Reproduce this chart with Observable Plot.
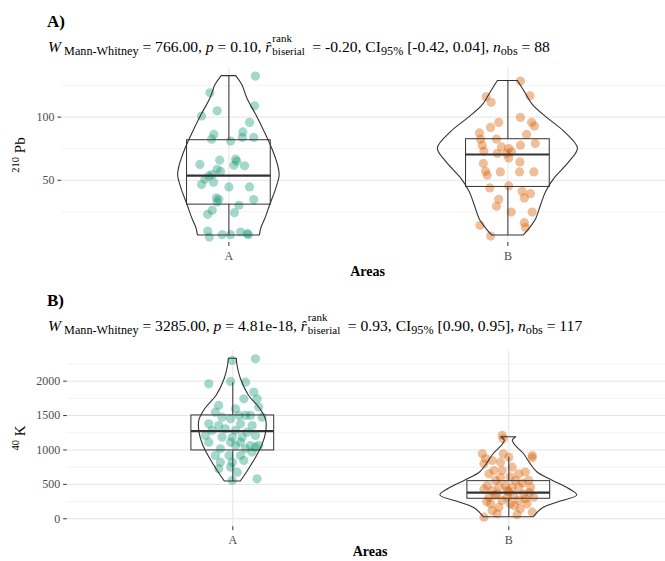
<!DOCTYPE html>
<html><head><meta charset="utf-8">
<script src="https://cdn.jsdelivr.net/npm/d3@7"></script>
<script src="https://cdn.jsdelivr.net/npm/@observablehq/plot@0.6"></script>
<style>
body{margin:0;background:#fff;}
#root{position:relative;width:665px;height:561px;font-family:"Liberation Serif","Times New Roman",serif;color:#000;overflow:hidden;}
.abs{position:absolute;white-space:nowrap;line-height:1;}
.title{font-weight:bold;font-size:17px;}
.sub{font-size:15.6px;}
.sb{font-size:12.2px;position:relative;top:3.5px;}
.stk{position:relative;display:inline-block;height:1px;}
.stk span{position:absolute;left:1px;font-size:11px;line-height:0.9;}
.xt{font-weight:bold;font-size:14px;transform:translateX(-50%);}
.yt{transform:translate(-50%,-50%) rotate(-90deg);font-size:15px;}
.yt .sp{font-size:10.5px;position:relative;top:-6px;}
svg{position:absolute;left:0;}
</style></head>
<body><div id="root"></div>
<script>
// ---------- data ----------
const categories = ["A", "B"];
const colors = ["#1B9E77", "#D95F02"];

// Panel A: 210Pb
const pbA_values = [132.5,119.3,105,100.8,109,95.8,88.3,86.3,82.5,81,83.9,83.9,66.7,65,61.9,65.9,61.4,62.5,58.7,54.5,50.8,46.6,53.4,44.7,44.7,34.9,32.8,34.7,30.2,26.2,23,24.3,9.8,5,6.9,6.9,9,7.7,6.9,57,48.5,36];
const pbA_jitter = [0.095,-0.068,-0.042,-0.098,0.092,0.074,0.05,-0.054,-0.062,0.006,0.048,0.089,0.024,0.028,0.018,-0.033,0.056,-0.104,-0.042,-0.06,-0.086,-0.098,-0.072,0,0.074,-0.036,-0.042,0.089,0.036,-0.06,-0.076,0.02,-0.076,-0.07,-0.024,0.006,0.042,0.066,0.07,-0.03,-0.055,-0.045];
const pbB_values = [128.6,116.1,111.7,116.9,99.8,95.8,92.9,95.8,91.8,87.5,86.3,82.5,82.5,79.1,77.8,77.8,76.4,75.1,73,71.2,71.2,72.5,67.7,63.3,64.5,57.1,56.6,56.6,56.6,54,43.9,45.5,41.3,39.4,36,34.9,29.4,24.8,24.8,16.4,14.3,5.8,12.5];
const pbB_jitter = [0.045,-0.078,-0.06,0.079,0.045,0.085,0.095,-0.033,-0.062,-0.102,0.067,-0.098,-0.041,0.098,0.045,-0.092,-0.023,0.003,-0.086,-0.038,-0.005,0.013,0.003,-0.088,0.043,-0.08,-0.027,0.042,0.093,-0.074,-0.065,0.003,0.051,0.081,0.059,-0.033,-0.041,0.012,0.087,0.059,-0.1,-0.062,0.063];
// box statistics: lower whisker, Q1, median, Q3, upper whisker
const pb_box_lo = [6.3, 6.3];
const pb_box_q1 = [30.7, 44.7];
const pb_box_med = [53.7, 70.4];
const pb_box_q3 = [81.7, 82.5];
const pb_box_hi = [132.5, 128.6];
// violin outlines: value and half-width (x units)
const pbA_violin_y = [6.3,11.7,19.6,30.2,43.4,54,61.9,75.1,88.3,101.6,114.8,125.4,132.5];
const pbA_violin_w = [0.111,0.116,0.131,0.148,0.170,0.182,0.176,0.155,0.128,0.098,0.066,0.048,0.026];
const pbB_violin_y = [6.3,11.7,19.6,30.2,40.7,51.3,64.5,75.1,88.3,99,109.5,120.1,128.6];
const pbB_violin_w = [0.057,0.078,0.102,0.119,0.137,0.167,0.221,0.251,0.203,0.143,0.090,0.060,0.036];
const pb_major = [50, 100];
const pb_minor = [25, 75, 125];

// Panel B: 40K
const kA_values = [2301,2325,1962,1996,1986,1841,1744,1744,1647,1550,1598,1623,1477,1502,1502,1502,1453,1380,1356,1380,1356,1477,1284,1308,1284,1259,1211,1187,1187,1187,1211,1114,1114,1114,1065,1065,1017,1065,1017,1041,920,920,920,969,823,823,847,726,751,678,557,581];
const kA_jitter = [-0.002,0.082,-0.087,-0.008,0.046,0.076,0.088,0.04,-0.051,-0.063,0.01,0.094,-0.039,0.022,0.046,0.064,-0.008,-0.087,-0.051,0.028,0.07,0.106,-0.075,-0.027,0.01,0.052,-0.099,-0.039,-0.002,0.034,0.082,-0.087,-0.008,0.028,0.064,0.094,-0.045,0.01,0.046,0.082,-0.063,-0.014,0.028,0.07,-0.045,-0.002,0.04,-0.051,-0.008,0.016,-0.002,0.088];
const kB_values = [1211,1163,945,920,847,823,895,799,702,750,654,557,557,484,459,459,411,363,339,363,314,314,266,218,169,145,23,96,702,945,654,411,314,266,218,218,73,484,557,459,600,520,430,380,340,290,250,190,120,60,390,470,610,680,876,886];
const kB_jitter = [-0.024,-0.02,-0.096,0.085,-0.06,-0.03,0,-0.09,-0.024,0.012,-0.072,-0.048,0.072,-0.078,0.036,0.079,-0.006,-0.042,0.018,0.054,-0.072,0.09,-0.024,0.006,-0.036,0.042,-0.09,0.085,-0.054,-0.02,0.036,-0.06,-0.006,0.036,0.066,-0.066,-0.042,-0.012,0.024,0.012,-0.03,0.05,-0.09,0.075,-0.05,0.06,-0.08,0.02,-0.06,0.03,0,-0.035,0.005,0.06,-0.084,0.085];
const k_box_lo = [542, 23];
const k_box_q1 = [993, 291];
const k_box_med = [1274, 380];
const k_box_q3 = [1502, 547];
const k_box_hi = [1976, 895];
const kA_violin_y = [542,677,872,1065,1259,1429,1599,1792,2035,2228,2326];
const kA_violin_w = [0.029,0.052,0.082,0.107,0.121,0.121,0.099,0.058,0.029,0.017,0.0145];
const kB_violin_y = [23,145,241,339,436,557,677,799,945,1065,1138,1186];
const kB_violin_w = [0.091,0.121,0.181,0.248,0.217,0.157,0.103,0.0785,0.054,0.024,0.0145,0.027];
const k_major = [0, 500, 1000, 1500, 2000];
const k_minor = [250, 750, 1250, 1750, 2250];

// ---------- drawing ----------
function pts(vals, jit, g) { return vals.map((v, i) => ({g, v, dx: jit[i]})); }
function viol(ys, ws, g) { return ys.map((y, i) => ({g, y, w: ws[i]})); }
function boxes(lo, q1, med, q3, hi) { return categories.map((c, i) => ({g: i + 1, lo: lo[i], q1: q1[i], med: med[i], q3: q3[i], hi: hi[i]})); }

function panel(o) {
  const ink = "#333333";
  const bx = boxes(...o.box);
  const marks = [
    Plot.ruleY(o.minor, {stroke: "#efefef", strokeWidth: 0.7}),
    Plot.ruleY(o.major, {stroke: "#e4e4e4", strokeWidth: 1}),
    Plot.ruleX([1, 2], {stroke: "#e4e4e4", strokeWidth: 1}),
    Plot.dot(o.pA, {x: d => d.g + d.dx, y: "v", r: 4.6, fill: colors[0], fillOpacity: 0.4, stroke: "none"}),
    Plot.dot(o.pB, {x: d => d.g + d.dx, y: "v", r: 4.6, fill: colors[1], fillOpacity: 0.4, stroke: "none"}),
    Plot.ruleX(bx, {x: "g", y1: "q3", y2: "hi", stroke: ink, strokeWidth: 1}),
    Plot.ruleX(bx, {x: "g", y1: "lo", y2: "q1", stroke: ink, strokeWidth: 1}),
    Plot.rect(bx, {x1: d => d.g - 0.15, x2: d => d.g + 0.15, y1: "q1", y2: "q3", fill: "none", stroke: ink, strokeWidth: 1}),
    Plot.ruleY(bx, {x1: d => d.g - 0.15, x2: d => d.g + 0.15, y: "med", stroke: ink, strokeWidth: 2.2}),
    Plot.areaX(o.vA, {y: "y", x1: d => d.g - d.w, x2: d => d.g + d.w, fill: "none", stroke: ink, strokeWidth: 1.1, curve: "catmull-rom"}),
    Plot.areaX(o.vB, {y: "y", x1: d => d.g - d.w, x2: d => d.g + d.w, fill: "none", stroke: ink, strokeWidth: 1.1, curve: "catmull-rom"}),
    Plot.axisX([1, 2], {tickFormat: d => categories[d - 1], tickSize: 4, tickPadding: 5, label: null, stroke: ink, fill: "#4d4d4d", fontSize: 12}),
    Plot.axisY(o.major, {tickFormat: d => String(d), tickSize: 3.5, tickPadding: 3.5, label: null, stroke: ink, fill: "#4d4d4d", fontSize: 12})
  ];
  const svg = Plot.plot({
    width: 665, height: o.height,
    marginLeft: o.ml, marginRight: 0, marginTop: o.mt, marginBottom: o.mb,
    x: {type: "linear", domain: [0.4, 0.4 + (665 - o.ml) / o.step]},
    y: {domain: o.yDomain},
    style: {fontFamily: "'Liberation Serif', serif", fontSize: "12px", background: "transparent", overflow: "visible"},
    marks
  });
  svg.style.top = o.top + "px";
  return svg;
}

const root = document.getElementById("root");
root.appendChild(panel({
  top: 60, height: 210, ml: 61, mt: 7, mb: 28, step: 279, yDomain: [0.7, 139.3],
  major: pb_major, minor: pb_minor,
  pA: pts(pbA_values, pbA_jitter, 1), pB: pts(pbB_values, pbB_jitter, 2),
  vA: viol(pbA_violin_y, pbA_violin_w, 1), vB: viol(pbB_violin_y, pbB_violin_w, 2),
  box: [pb_box_lo, pb_box_q1, pb_box_med, pb_box_q3, pb_box_hi]
}));
root.appendChild(panel({
  top: 340, height: 215, ml: 66.7, mt: 10.4, mb: 28.8, step: 276, yDomain: [-115, 2440],
  major: k_major, minor: k_minor,
  pA: pts(kA_values, kA_jitter, 1), pB: pts(kB_values, kB_jitter, 2),
  vA: viol(kA_violin_y, kA_violin_w, 1), vB: viol(kB_violin_y, kB_violin_w, 2),
  box: [k_box_lo, k_box_q1, k_box_med, k_box_q3, k_box_hi]
}));

function sub(stats) {
  return `<i>W</i><span class="sb"> Mann-Whitney</span> = ${stats.W}, <i>p</i> = ${stats.p}, <i>r&#770;</i><span class="stk" style="width:41px"><span style="top:-16.5px">rank</span><span style="top:-3.9px">biserial</span></span>= ${stats.r}, CI<span class="sb">95%</span> ${stats.ci}, <i>n</i><span class="sb">obs</span> = ${stats.n}`;
}
const html = `
<div class="abs title" style="left:47px;top:13px">A)</div>
<div class="abs sub" style="left:48px;top:38.6px">${sub({W: "766.00", p: "0.10", r: "-0.20", ci: "[-0.42, 0.04]", n: "88"})}</div>
<div class="abs yt" style="left:20px;top:155px"><span class="sp">210</span> Pb</div>
<div class="abs xt" style="left:367.5px;top:264.5px">Areas</div>
<div class="abs title" style="left:47px;top:292px">B)</div>
<div class="abs sub" style="left:48px;top:317.6px">${sub({W: "3285.00", p: "4.81e-18", r: "0.93", ci: "[0.90, 0.95]", n: "117"})}</div>
<div class="abs yt" style="left:20px;top:438px"><span class="sp">40</span> K</div>
<div class="abs xt" style="left:370px;top:544.5px">Areas</div>`;
root.insertAdjacentHTML("beforeend", html);
</script>
</body></html>
